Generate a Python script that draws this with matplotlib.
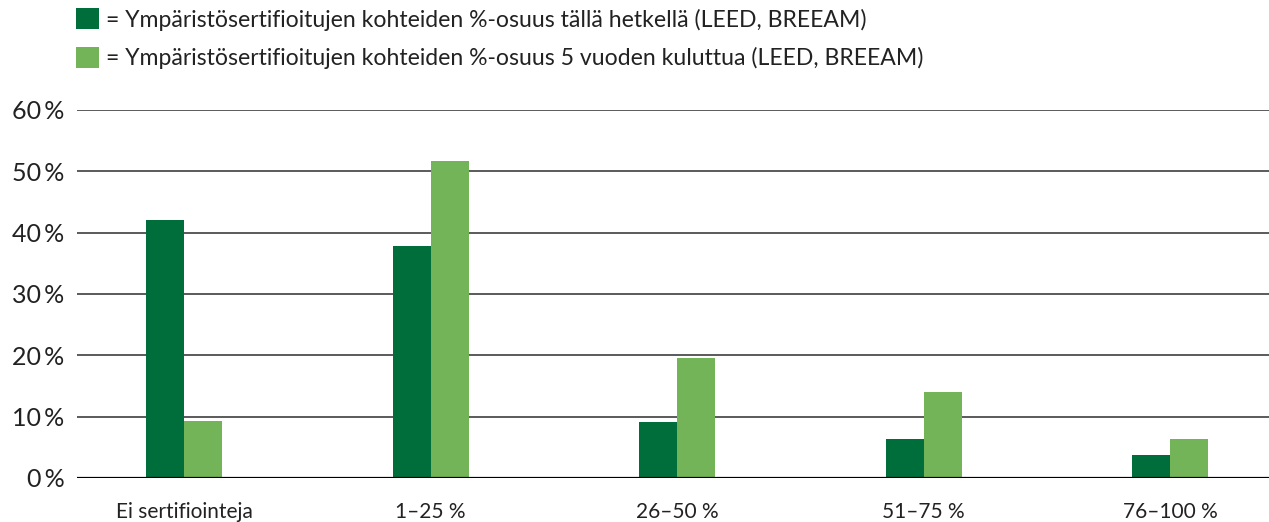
import matplotlib
matplotlib.use("Agg")
import matplotlib.pyplot as plt
import numpy as np

plt.rcParams["font.family"] = ["Lato", "DejaVu Sans"]

categories = ["Ei sertifiointeja", "1–25 %", "26–50 %", "51–75 %", "76–100 %"]
series_names = [
    "= Ympäristösertifioitujen kohteiden %-osuus tällä hetkellä (LEED, BREEAM)",
    "= Ympäristösertifioitujen kohteiden %-osuus 5 vuoden kuluttua (LEED, BREEAM)",
]
now_values = [42.1, 37.9, 9.2, 6.4, 3.7]
future_values = [9.3, 51.7, 19.6, 14.0, 6.4]
y_ticks = [0, 10, 20, 30, 40, 50, 60]

DARK = "#006e3b"
LIGHT = "#72b457"

fig = plt.figure(figsize=(12.69, 5.22), dpi=100)
ax = fig.add_axes([0.0607, 0.0843, 0.9393, 0.7050])

x = np.arange(len(categories))
w = 0.154
b1 = ax.bar(x - w / 2, now_values, w, color=DARK, label=series_names[0], zorder=3)
b2 = ax.bar(x + w / 2, future_values, w, color=LIGHT, label=series_names[1], zorder=3)

ax.set_xlim(-0.434, 4.40)
ax.set_ylim(0, 60)
ax.set_yticks(y_ticks)
ax.set_yticklabels([f"{t}\u2009%" for t in y_ticks], fontsize=18, color="#222222")
for t in y_ticks[1:]:
    ax.axhline(t, color="#4d4d4d", lw=1.3, zorder=1)
ax.axhline(0, color="black", lw=1.6, zorder=4)

ax.set_xticks(x)
ax.set_xticklabels(categories, fontsize=15, color="#222222")
ax.tick_params(axis="both", length=0)
ax.tick_params(axis="x", pad=17)
ax.tick_params(axis="y", pad=9)
for s in ax.spines.values():
    s.set_visible(False)

fig.legend(handles=[b1, b2], labels=series_names, loc="upper left",
           bbox_to_anchor=(0.0599, 0.984), frameon=False, fontsize=16.6,
           handlelength=1.0, handleheight=1.0, handletextpad=0.3,
           labelspacing=0.72, labelcolor="#222222", borderaxespad=0,
           borderpad=0)

fig.savefig("out.png", dpi=100)
